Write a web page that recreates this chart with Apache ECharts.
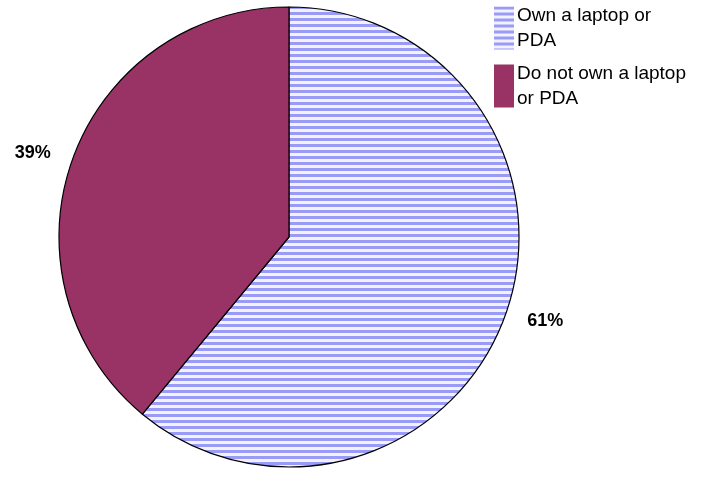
<!DOCTYPE html>
<html>
<head>
<meta charset="utf-8">
<script src="https://cdn.jsdelivr.net/npm/echarts@6/dist/echarts.min.js"></script>
<style>
  html, body { margin: 0; padding: 0; background: #fff; }
  #main { width: 723px; height: 495px; }
</style>
</head>
<body>
<div id="main"></div>
<script>
// data
const categories = ['Own a laptop or PDA', 'Do not own a laptop or PDA'];
const legendLines = ['Own a laptop or\nPDA', 'Do not own a laptop\nor PDA'];
const shares = [61, 39];

// striped fill like the old excel hatch
function stripes() {
  const c = document.createElement('canvas');
  c.width = 6; c.height = 6;
  const g = c.getContext('2d');
  g.fillStyle = '#f2f2ff';
  g.fillRect(0, 0, 6, 6);
  g.fillStyle = '#9a9af7';
  g.fillRect(0, 0, 6, 3);
  return c;
}

const chart = echarts.init(document.getElementById('main'));
chart.setOption({
  animation: false,
  legend: {
    orient: 'vertical',
    left: 494, top: 0, padding: 0,
    itemWidth: 20, itemHeight: 43, itemGap: 2,
    icon: 'rect',
    itemStyle: { borderWidth: 0 },
    formatter: name => legendLines[categories.indexOf(name)],
    textStyle: { fontFamily: 'Liberation Sans, Arial', fontSize: 19, lineHeight: 25, color: '#000', padding: [0, 0, 6, -2] }
  },
  series: [{
    type: 'pie',
    center: [289, 237],
    radius: [0, 230],
    startAngle: 90,
    clockwise: true,
    label: {
      show: true, position: 'outside',
      formatter: '{c}%',
      fontFamily: 'Liberation Sans, Arial', fontWeight: 'bold', fontSize: 18, color: '#000'
    },
    labelLine: { show: false, length: 18, length2: 0 },
    itemStyle: { borderColor: '#000', borderWidth: 1.2 },
    emphasis: { disabled: true },
    data: categories.map((n, i) => ({
      name: n, value: shares[i],
      itemStyle: { color: i === 0 ? { image: stripes(), repeat: 'repeat' } : '#993366' }
    }))
  }]
});
</script>
</body>
</html>
